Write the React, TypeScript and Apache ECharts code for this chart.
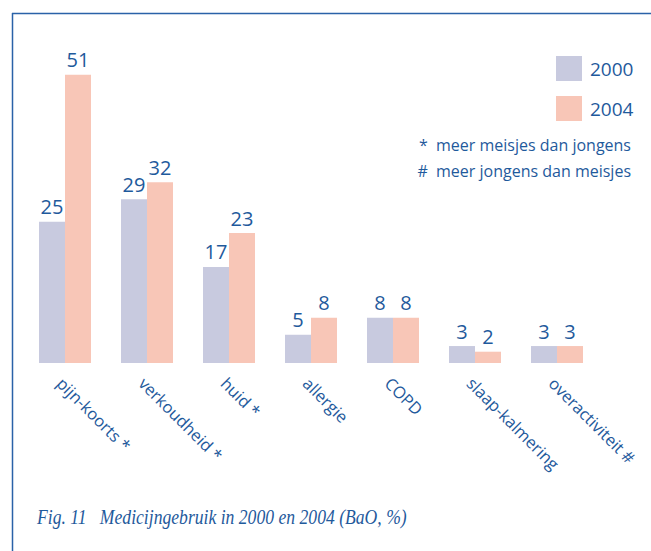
import React, { useEffect, useRef } from "react";
import * as echarts from "echarts";

const categories = [
  "pijn-koorts *",
  "verkoudheid *",
  "huid *",
  "allergie",
  "COPD",
  "slaap-kalmering",
  "overactiviteit #",
];
const values2000 = [25, 29, 17, 5, 8, 3, 3];
const values2004 = [51, 32, 23, 8, 8, 2, 3];
const seriesNames = ["2000", "2004"];
const notes = ["*  meer meisjes dan jongens", "#  meer jongens dan meisjes"];
const caption = "Fig. 11   Medicijngebruik in 2000 en 2004 (BaO, %)";

const BLUE = "#1f5a9c";
const C2000 = "#c8cadf";
const C2004 = "#f8c6b7";
const SANS = "'Open Sans', 'Noto Sans', sans-serif";

export default function App() {
  const ref = useRef<HTMLDivElement>(null);
  useEffect(() => {
    if (!ref.current) return;
    const chart = echarts.init(ref.current, undefined, { renderer: "svg" });
    const labelStyle = {
      show: true,
      position: "top" as const,
      distance: 5,
      color: BLUE,
      fontSize: 20,
      fontFamily: SANS,
    };
    chart.setOption({
      animation: false,
      backgroundColor: "#ffffff",
      grid: { left: 24, width: 574, top: 24, height: 339 },
      legend: {
        orient: "vertical",
        left: 551,
        top: 51,
        itemWidth: 26,
        itemHeight: 25,
        itemGap: 15,
        icon: "rect",
        textStyle: { color: BLUE, fontSize: 19, fontFamily: SANS, padding: [0, 0, 0, 3] },
        data: seriesNames,
      },
      xAxis: {
        type: "category",
        data: categories,
        axisLine: { show: false },
        axisTick: { show: false },
        axisLabel: {
          rotate: -45,
          margin: 22,
          color: BLUE,
          fontSize: 16.5,
          fontFamily: SANS,
          interval: 0,
          padding: [0, 0, 0, -7],
        },
      },
      yAxis: {
        type: "value",
        min: 0,
        max: 60,
        show: false,
        splitLine: { show: false },
      },
      series: [
        {
          name: seriesNames[0],
          type: "bar",
          data: values2000,
          barWidth: 26,
          barGap: "0%",
          itemStyle: { color: C2000 },
          label: labelStyle,
        },
        {
          name: seriesNames[1],
          type: "bar",
          data: values2004,
          barWidth: 26,
          barGap: "0%",
          itemStyle: { color: C2004 },
          label: labelStyle,
        },
      ],
      graphic: [
        {
          type: "line",
          shape: { x1: 12, y1: 13.5, x2: 651, y2: 13.5 },
          style: { stroke: "#2a62a8", lineWidth: 1.5 },
        },
        {
          type: "line",
          shape: { x1: 12.5, y1: 13, x2: 12.5, y2: 551 },
          style: { stroke: "#2a62a8", lineWidth: 1.5 },
        },
        {
          type: "text",
          x: 631,
          y: 145,
          style: {
            text: notes[0],
            fill: BLUE,
            fontSize: 16,
            fontFamily: SANS,
            align: "right",
            verticalAlign: "middle",
          },
        },
        {
          type: "text",
          x: 631,
          y: 171,
          style: {
            text: notes[1],
            fill: BLUE,
            fontSize: 16,
            fontFamily: SANS,
            align: "right",
            verticalAlign: "middle",
          },
        },
        {
          type: "text",
          x: 37,
          y: 517,
          scaleX: 0.84,
          style: {
            text: caption,
            fill: BLUE,
            fontSize: 21,
            fontStyle: "italic",
            fontFamily: "'Liberation Serif', 'DejaVu Serif', serif",
            align: "left",
            verticalAlign: "middle",
          },
        },
      ],
    });
    return () => chart.dispose();
  }, []);
  return (
    <div
      ref={ref}
      style={{ position: "fixed", left: 0, top: 0, width: 651, height: 551 }}
    />
  );
}
